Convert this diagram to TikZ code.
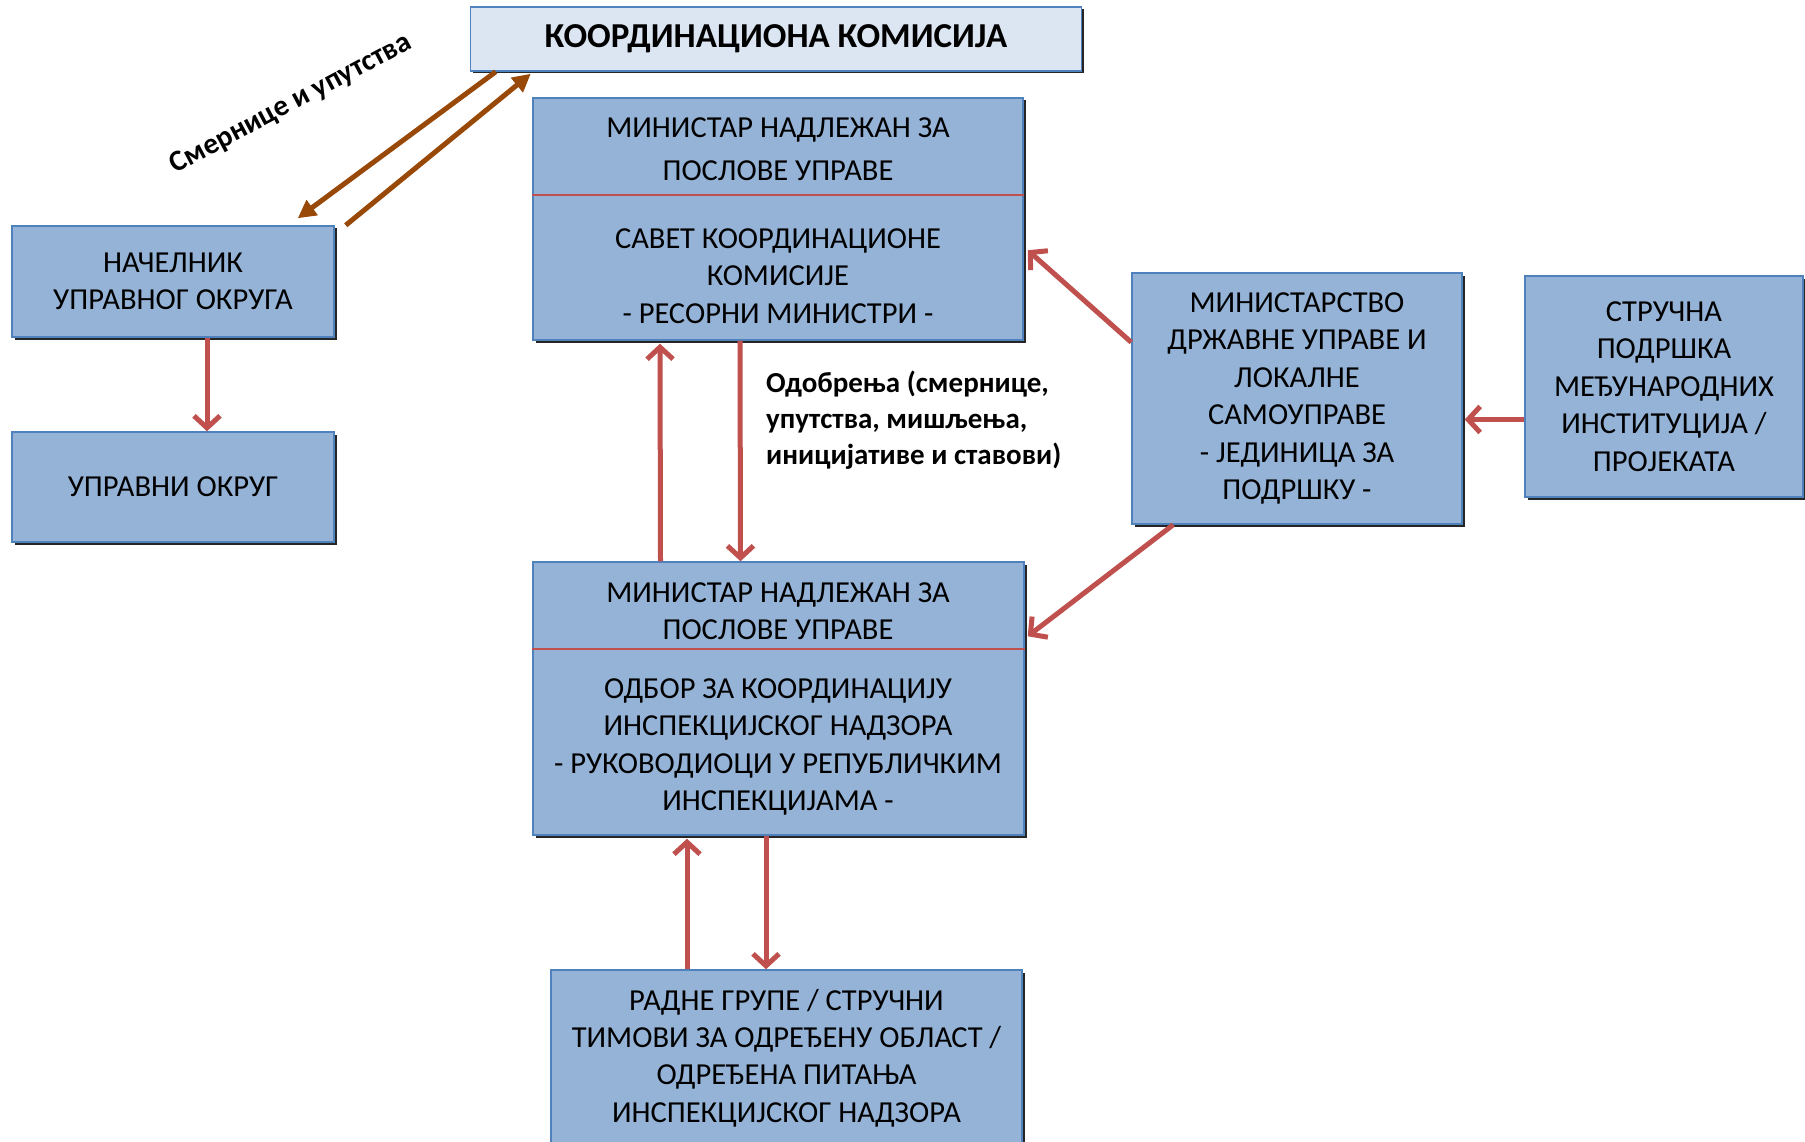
\documentclass[tikz,border=0pt]{standalone}
\usepackage{fontspec}
\setmainfont{Carlito}
\usetikzlibrary{arrows.meta,shadows}
\definecolor{boxfill}{RGB}{149,179,215}
\definecolor{boxedge}{RGB}{79,129,189}
\definecolor{titlefill}{RGB}{220,230,242}
\definecolor{linkred}{RGB}{192,80,77}
\definecolor{linkbrown}{RGB}{152,72,7}

\begin{document}
\begin{tikzpicture}[x=1pt,y=-1pt,
  orgbox/.style={draw=boxedge, fill=boxfill, line width=1.5pt, inner sep=0pt, align=center,
    drop shadow={shadow xshift=2.5pt, shadow yshift=-2.5pt, fill=black!85, opacity=1},
    font=\fontsize{30.5}{37.4}\selectfont},
  boxtext/.style={inner sep=0pt, align=center, font=\fontsize{30.5}{37.4}\selectfont},
  flow/.style={draw=linkred, line width=5pt, -{Straight Barb[length=12pt,width=26pt]}},
  guide/.style={draw=linkbrown, line width=5pt, -{Triangle[length=18pt,width=18pt]}},
  divider/.style={draw=linkred, line width=2pt}]
\path[use as bounding box, fill=white] (0,0) rectangle (1805,1142);

% Commission
\node[orgbox, fill=titlefill, minimum width=611pt, minimum height=64pt,
  font=\fontsize{35}{40}\selectfont\bfseries] (komisija) at (776,39) {КООРДИНАЦИОНА КОМИСИЈА};

% Council
\node[orgbox, minimum width=490pt, minimum height=242pt] (savet) at (778,219) {};
\node[boxtext, font=\fontsize{30.5}{42.6}\selectfont] (savetmin) at (778,149) {МИНИСТАР НАДЛЕЖАН ЗА\\ПОСЛОВЕ УПРАВЕ};
\node[boxtext] (savetres) at (778,276) {САВЕТ КООРДИНАЦИОНЕ\\КОМИСИЈЕ\\- РЕСОРНИ МИНИСТРИ -};
\draw[divider] ([yshift=-98pt]savet.north west) -- ([yshift=-98pt]savet.north east);

% Inspection board
\node[orgbox, minimum width=491pt, minimum height=273pt] (odbor) at (778.5,698.5) {};
\node[boxtext] (odbormin) at (778,611) {МИНИСТАР НАДЛЕЖАН ЗА\\ПОСЛОВЕ УПРАВЕ};
\node[boxtext] (odborins) at (778,747) {ОДБОР ЗА КООРДИНАЦИЈУ\\ИНСПЕКЦИЈСКОГ НАДЗОРА\\- РУКОВОДИОЦИ У РЕПУБЛИЧКИМ\\ИНСПЕКЦИЈАМА -};
\draw[divider] ([yshift=-88pt]odbor.north west) -- ([yshift=-88pt]odbor.north east);

% District
\node[orgbox, minimum width=322pt, minimum height=111pt] (nacelnik) at (173,281.5) {НАЧЕЛНИК\\УПРАВНОГ ОКРУГА};
\node[orgbox, minimum width=322pt, minimum height=110pt] (okrug) at (173,487) {УПРАВНИ ОКРУГ};

% Ministry and support
\node[orgbox, minimum width=330pt, minimum height=251pt] (ministarstvo) at (1297,398.5) {МИНИСТАРСТВО\\ДРЖАВНЕ УПРАВЕ И\\ЛОКАЛНЕ\\САМОУПРАВЕ\\- ЈЕДИНИЦА ЗА\\ПОДРШКУ -};
\node[orgbox, minimum width=278pt, minimum height=221pt] (strucna) at (1664,386.5) {СТРУЧНА\\ПОДРШКА\\МЕЂУНАРОДНИХ\\ИНСТИТУЦИЈА /\\ПРОЈЕКАТА};

% Working groups
\node[orgbox, minimum width=471pt, minimum height=176pt] (radne) at (786.5,1058) {РАДНЕ ГРУПЕ / СТРУЧНИ\\ТИМОВИ ЗА ОДРЕЂЕНУ ОБЛАСТ /\\ОДРЕЂЕНА ПИТАЊА\\ИНСПЕКЦИЈСКОГ НАДЗОРА};

% Guidelines to the district
\draw[guide] ([xshift=26pt]komisija.south west) -- ([xshift=-37pt,yshift=7pt]nacelnik.north east);
\draw[guide] ([xshift=11pt]nacelnik.north east) -- ([xshift=61pt,yshift=-2pt]komisija.south west);
\node[boxtext, rotate=28, font=\fontsize{29.5}{32}\selectfont\bfseries] (smernice) at (291,104) {Смернице и упутства};
\draw[flow] ([xshift=34pt]nacelnik.south) -- ([xshift=34pt]okrug.north);

% Council and board
\draw[flow] ([xshift=-118pt]odbor.north) -- ([xshift=-118pt,yshift=-3pt]savet.south);
\draw[flow] ([xshift=-38pt]savet.south) -- ([xshift=-38pt]odbor.north);
\node[boxtext, anchor=west, align=left, font=\fontsize{29}{36}\selectfont\bfseries] (odobrenja) at (766,420) {Одобрења (смернице,\\упутства, мишљења,\\иницијативе и ставови)};

% Support unit
\draw[flow] ([yshift=-70pt]ministarstvo.north west) -- ([xshift=4pt,yshift=-153pt]savet.north east);
\draw[flow] ([xshift=42pt]ministarstvo.south west) -- ([xshift=3pt,yshift=-75pt]odbor.north east);
\draw[flow] ([yshift=-33pt]strucna.west) -- ([xshift=2pt,yshift=-21pt]ministarstvo.east);

% Board and working groups
\draw[flow] ([xshift=-99.5pt]radne.north) -- ([xshift=-91.5pt,yshift=-3pt]odbor.south);
\draw[flow] ([xshift=-12.5pt]odbor.south) -- ([xshift=-20.5pt]radne.north);
\end{tikzpicture}
\end{document}
